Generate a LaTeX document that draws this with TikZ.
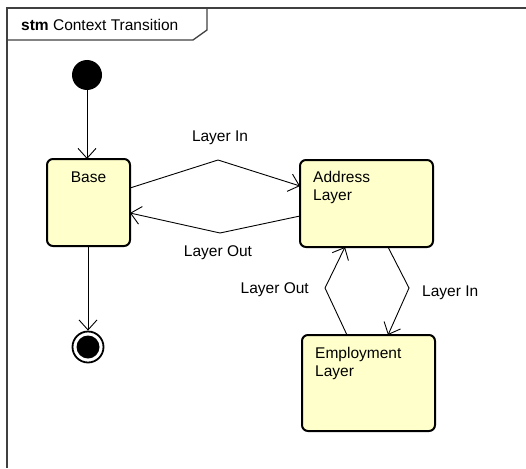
\documentclass[tikz,border=0pt]{standalone}
\usepackage{fontspec}
\setmainfont{Liberation Sans}
\usetikzlibrary{arrows.meta}
\definecolor{stateyellow}{RGB}{255,255,204}

\begin{document}
\begin{tikzpicture}
      [ x = 1pt, y = -1pt
      , font = \fontsize{15.5}{18}\selectfont
      , frame/.style =
        { draw = black!75, line width = 1.3pt }
      , state/.style =
        { draw, rectangle, rounded corners = 6pt, line width = 2pt, fill = stateyellow, inner sep = 0pt, outer sep = 0pt }
      , initial/.style =
        { fill, circle, inner sep = 0pt, minimum size = 30pt }
      , final/.style =
        { draw, circle, line width = 1.8pt, inner sep = 0pt, minimum size = 31pt
        , path picture = {\fill (path picture bounding box.center) circle (11.5pt);} }
      , trans/.style =
        { line width = 0.9pt, -{Straight Barb[length = 10pt, width = 18pt]} }
      , stext/.style =
        { inner sep = 0pt, align = left }
      ]
      \useasboundingbox (0, 0) rectangle (526, 468);
      % diagram frame with its name tab
      \draw [frame] (526, 8) -| (7, 468);
      \draw [frame] (7, 40) -- (193, 40) -- (207, 30) -- (207, 8);
      \node [anchor = west, inner sep = 0pt] (title) at (21, 25) {\textbf{stm} Context Transition};
      % states
      \node [initial] (init) at (87, 75) {};
      \node [state, minimum width = 83pt, minimum height = 87pt] (base) at (88.5, 202.5) {};
      \node [state, minimum width = 133pt, minimum height = 87pt] (addr) at (366.5, 203.5) {};
      \node [state, minimum width = 133pt, minimum height = 96pt] (emp) at (368.5, 383) {};
      \node [final] (fin) at (88, 347) {};
      \node [stext] (basetext) at ([shift = {(0, 18)}] base.north) {Base};
      \node [stext, anchor = north west] (addrtext) at ([shift = {(13, 11.5)}] addr.north west) {Address\\Layer};
      \node [stext, anchor = north west] (emptext) at ([shift = {(13, 12.5)}] emp.north west) {Employment\\Layer};
      % transitions
      \coordinate (inA) at (218, 160);
      \coordinate (outA) at (220, 233);
      \coordinate (inE) at (409, 288);
      \coordinate (outE) at (325, 288);
      \draw [trans] (init) -- (init |- base.north);
      \draw [trans] (base.south -| fin) -- (fin.north);
      \draw [trans] ([shift = {(0, -14.5)}] base.east) -- (inA) -- ([shift = {(0, -17.5)}] addr.west);
      \draw [trans] ([shift = {(0, 12.5)}] addr.west) -- (outA) -- ([shift = {(0, 10.5)}] base.east);
      \draw [trans] ([shift = {(21.5, 0)}] addr.south) -- (inE) -- ([shift = {(19.5, 0)}] emp.north);
      \draw [trans] ([shift = {(-21.5, 0)}] emp.north) -- (outE) -- ([shift = {(-21.5, 0)}] addr.south);
      % transition labels
      \node [inner sep = 0pt] (lblinA) at (220, 138) {Layer In};
      \node [inner sep = 0pt] (lbloutA) at (218, 253) {Layer Out};
      \node [inner sep = 0pt, anchor = west] (lblinE) at (422, 293) {Layer In};
      \node [inner sep = 0pt, anchor = east] (lbloutE) at (309, 290) {Layer Out};
\end{tikzpicture}
\end{document}
